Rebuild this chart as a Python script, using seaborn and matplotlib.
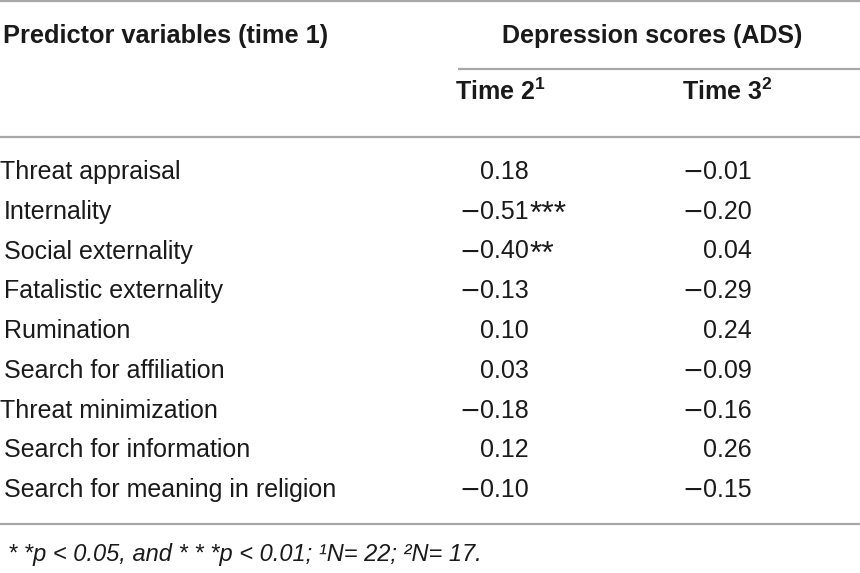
import matplotlib
matplotlib.use("Agg")
import matplotlib.pyplot as plt
import seaborn as sns

# ---- data ----
predictors = [
    "Threat appraisal",
    "Internality",
    "Social externality",
    "Fatalistic externality",
    "Rumination",
    "Search for affiliation",
    "Threat minimization",
    "Search for information",
    "Search for meaning in religion",
]
time2 = [0.18, -0.51, -0.40, -0.13, 0.10, 0.03, -0.18, 0.12, -0.10]
time2_sig = ["", "***", "**", "", "", "", "", "", ""]
time3 = [-0.01, -0.20, 0.04, -0.29, 0.24, -0.09, -0.16, 0.26, -0.15]
time3_sig = ["", "", "", "", "", "", "", "", ""]
header_left = "Predictor variables (time 1)"
header_group = "Depression scores (ADS)"
col_labels = [r"Time 2$^{\mathbf{1}}$", r"Time 3$^{\mathbf{2}}$"]
footnote = "* *p < 0.05, and * * *p < 0.01; \u00b9N= 22; \u00b2N= 17."

sns.set_theme(style="white")
plt.rcParams["font.family"] = ["Liberation Sans", "DejaVu Sans"]
plt.rcParams["mathtext.fontset"] = "custom"
plt.rcParams["mathtext.rm"] = "Liberation Sans"
plt.rcParams["mathtext.bf"] = "Liberation Sans:bold"
plt.rcParams["mathtext.it"] = "Liberation Sans:italic"

W, H = 860, 573
fig = plt.figure(figsize=(W / 100, H / 100), dpi=100)
ax = fig.add_axes([0, 0, 1, 1])
ax.set_xlim(0, W)
ax.set_ylim(H, 0)
ax.axis("off")

txt = "#1a1a1a"
line_c = "#a8a8a8"
fs = 18

# rules
for x0, y in [(0, 1), (458, 69), (0, 137), (0, 524)]:
    ax.plot([x0, W], [y, y], color=line_c, lw=1.6, solid_capstyle="butt")

# headers
ax.text(3, 43, header_left, fontsize=18.3, fontweight="bold", color=txt,
        ha="left", va="baseline")
ax.text(652, 43, header_group, fontsize=18, fontweight="bold", color=txt,
        ha="center", va="baseline")
ax.text(455, 100, col_labels[0], fontsize=18, fontweight="bold", color=txt,
        ha="left", va="baseline")
ax.text(682, 100, col_labels[1], fontsize=18, fontweight="bold", color=txt,
        ha="left", va="baseline")

# body
cols = [
    (time2, time2_sig, 529, 480),
    (time3, time3_sig, 752, 703),
]
y0, dy = 179, 39.75
for i, name in enumerate(predictors):
    y = y0 + i * dy
    xname = 0 if name.startswith("Threat") else 4
    ax.text(xname, y, name, fontsize=fs, color=txt, ha="left", va="baseline")
    for vals, sig, xr, xm in cols:
        v = vals[i]
        ax.text(xr, y, f"{abs(v):.2f}", fontsize=fs, color=txt,
                ha="right", va="baseline")
        if v < 0:
            ax.text(xm, y, "\u2212", fontsize=fs, color=txt,
                    family="DejaVu Sans", ha="right", va="baseline")
        if sig[i]:
            ax.text(xr + 1, y + 4, sig[i], fontsize=23, color=txt,
                    ha="left", va="baseline")

ax.text(8, 561, footnote, fontsize=17, color=txt, style="italic",
        ha="left", va="baseline")

fig.savefig("out.png", dpi=100)
